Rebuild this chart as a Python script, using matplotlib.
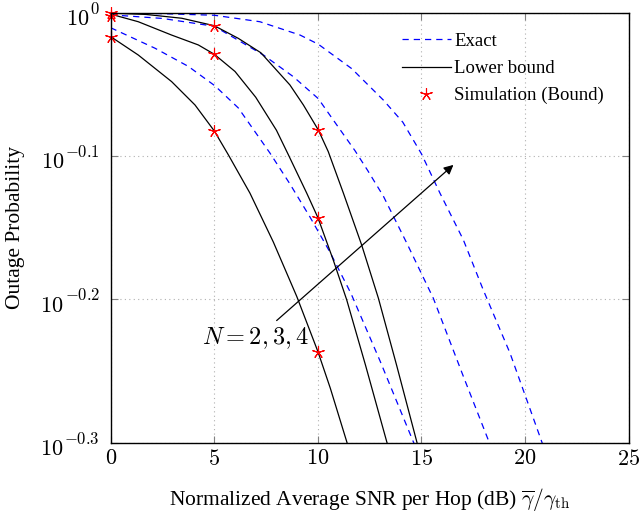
import matplotlib
matplotlib.use("Agg")
import matplotlib.pyplot as plt
from matplotlib.ticker import FixedLocator, FixedFormatter, NullLocator

plt.rcParams['font.family'] = ['Liberation Serif', 'DejaVu Serif']
plt.rcParams['mathtext.fontset'] = 'cm'

# lower bound curves, N = 2, 3, 4
snr_lb2 = [0, 1.33, 2.94, 4.07, 5.0, 5.68, 6.72, 7.85, 8.98, 10.0, 10.6, 11.39, 11.7]
p_lb2 = [0.9623, 0.9343, 0.8952, 0.8622, 0.8270, 0.7958, 0.7484, 0.6918, 0.6339,
         0.5802, 0.5470, 0.5021, 0.4842]

snr_lb3 = [0, 1.33, 2.94, 4.23, 5.0, 6.0, 7.0, 8.0, 8.57, 9.46, 10.0, 10.74, 11.39,
           12.3, 13.32, 13.6]
p_lb3 = [0.9977, 0.9856, 0.9647, 0.9495, 0.9354, 0.9099, 0.8730, 0.8279, 0.7962,
         0.7484, 0.7195, 0.6722, 0.6305, 0.5675, 0.5021, 0.4864]

snr_lb4 = [0, 1.7, 3.43, 5.0, 6.16, 7.25, 8.65, 9.3, 10.02, 10.5, 11.23, 12.11, 12.92,
           13.8, 14.77, 15.0]
p_lb4 = [0.9993, 0.9972, 0.9911, 0.9793, 0.9596, 0.9376, 0.8904, 0.8622, 0.8283,
         0.8000, 0.7484, 0.6887, 0.6321, 0.5675, 0.5021, 0.4875]

# exact outage probability, N = 2, 3, 4
snr_ex2 = [0, 2.14, 3.75, 5.03, 6.16, 7.69, 8.65, 9.62, 10.58, 11.6, 13.0, 14.6, 14.9]
p_ex2 = [0.9761, 0.9445, 0.9173, 0.8892, 0.8581, 0.7980, 0.7595, 0.7201, 0.6808,
         0.6368, 0.5715, 0.5021, 0.4909]

snr_ex3 = [0, 2.5, 5.0, 7.37, 8.81, 10.02, 10.91, 11.79, 12.4, 13.16, 14.29, 15.57,
           17.02, 18.22, 18.5]
p_ex3 = [0.9966, 0.9908, 0.9784, 0.9343, 0.9024, 0.8710, 0.8350, 0.8012, 0.7762,
         0.7447, 0.6906, 0.6321, 0.5575, 0.5035, 0.4898]

snr_ex4 = [0, 2.5, 5.0, 7.2, 9.14, 10.02, 11.63, 13.16, 14.1, 15.0, 15.89, 17.02,
           17.98, 19.27, 20.08, 20.8, 21.1]
p_ex4 = [0.9995, 0.9984, 0.9959, 0.9856, 0.9647, 0.9506, 0.9141, 0.8690, 0.8386,
         0.7970, 0.7484, 0.6942, 0.6406, 0.5788, 0.5369, 0.5021, 0.4875]

# simulated points on the bound
snr_sim = [0, 5, 10]
p_sim2 = [0.9623, 0.8270, 0.5802]
p_sim3 = [0.9947, 0.9354, 0.7195]
p_sim4 = [0.9991, 0.9793, 0.8283]

x_ticks = [0, 5, 10, 15, 20, 25]
y_exps = [-0.3, -0.2, -0.1, 0]

fig = plt.figure(figsize=(6.39, 5.20), dpi=100)
ax = fig.add_axes([0.1732, 0.1487, 0.8107, 0.8269])

dash = (0, (5, 4))
star = (5, 2, 0)
for s, p in [(snr_ex2, p_ex2), (snr_ex3, p_ex3), (snr_ex4, p_ex4)]:
    ax.plot(s, p, color='b', lw=0.9, linestyle=dash)
for s, p in [(snr_lb2, p_lb2), (snr_lb3, p_lb3), (snr_lb4, p_lb4)]:
    ax.plot(s, p, color='k', lw=0.9)
for p in [p_sim2, p_sim3, p_sim4]:
    ax.plot(snr_sim, p, linestyle='none', marker=star, color='r',
            markersize=9, markeredgewidth=0.8, clip_on=False)

# legend entries
h_ex, = ax.plot([], [], color='b', lw=0.9, linestyle=dash)
h_lb, = ax.plot([], [], color='k', lw=0.9)
h_sim, = ax.plot([], [], linestyle='none', marker=star, color='r', markersize=9,
                 markeredgewidth=0.8)
ax.legend([h_ex, h_lb, h_sim], ['Exact', 'Lower bound', 'Simulation (Bound)'],
          loc='upper left', bbox_to_anchor=(0.562, 0.953), frameon=False,
          fontsize=13.5, handlelength=2.6, handletextpad=0.2, labelspacing=0.53,
          borderpad=0, borderaxespad=0, numpoints=1)

ax.annotate('', xy=(16.54, 10 ** -0.1062), xytext=(8.01, 10 ** -0.2148),
            arrowprops=dict(arrowstyle='-|>', color='k', lw=0.9,
                            mutation_scale=14, shrinkA=0, shrinkB=0))
ax.text(6.97, 10 ** -0.2268, '$N = 2, 3, 4$', fontsize=17.5, ha='center', va='center')

ax.set_yscale('log')
ax.set_xlim(0, 25)
ax.set_ylim(10 ** -0.3, 1)
ax.xaxis.set_major_locator(FixedLocator(x_ticks))
ax.xaxis.set_major_formatter(FixedFormatter(['$%d$' % t for t in x_ticks]))
ax.yaxis.set_major_locator(FixedLocator([10 ** e for e in y_exps]))
ax.yaxis.set_minor_locator(NullLocator())
ax.xaxis.set_minor_locator(NullLocator())

# y tick labels: base and exponent set as separate texts
ytr = ax.get_yaxis_transform()
for e in y_exps:
    ex = ax.annotate('$%g$' % e, xy=(0, 10 ** e), xycoords=ytr, xytext=(-7.7, -0.7),
                     textcoords='offset points', ha='right', va='baseline', fontsize=12)
    ax.annotate('$10$', xy=(0, 0), xycoords=ex, xytext=(-0.6, -5.2),
                textcoords='offset points', ha='right', va='baseline', fontsize=16)

ax.grid(True, linestyle=(0, (1, 3)), color='#b0b0b0', lw=0.8)
ax.tick_params(axis='both', direction='in', length=5, width=0.8, color='#808080',
               top=True, right=True, labelsize=16)
ax.tick_params(axis='x', pad=5)
ax.tick_params(axis='y', labelleft=False)
for sp in ax.spines.values():
    sp.set_linewidth(1.0)

ax.set_xlabel(r'Normalized Average SNR per Hop (dB) $\overline{\gamma}/\gamma_{\rm th}$',
              fontsize=15.5, labelpad=12)
ax.set_ylabel('Outage Probability', fontsize=15.5)
ax.yaxis.set_label_coords(-0.1654, 0.5)

fig.savefig('out.png', dpi=100)
